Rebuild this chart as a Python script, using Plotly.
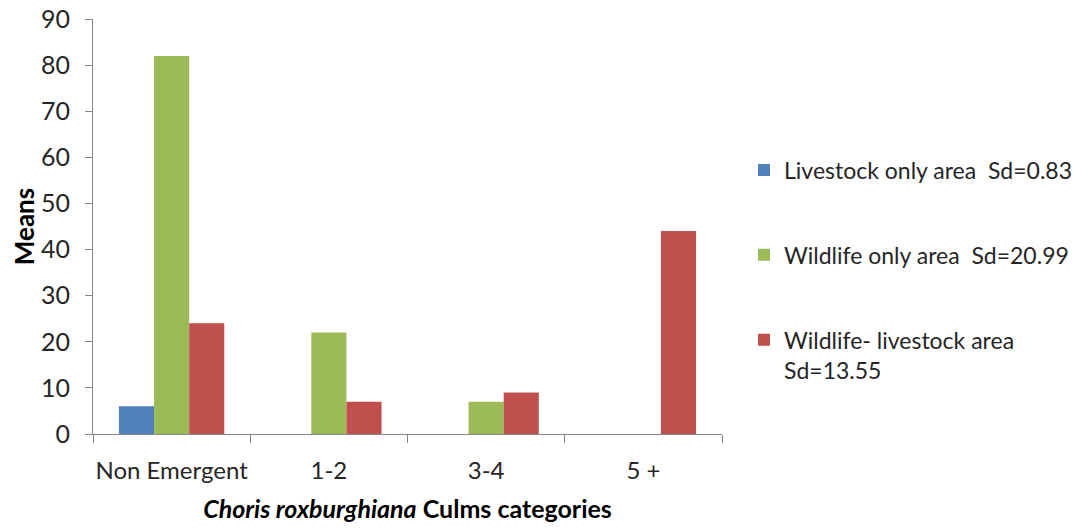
import plotly.graph_objects as go

categories = ["Non Emergent", "1-2", "3-4", "5 +"]
livestock = [6, 0, 0, 0]
wildlife = [82, 22, 7, 0]
mixed = [24, 7, 9, 44]
series_names = [
    "Livestock only area  Sd=0.83",
    "Wildlife only area  Sd=20.99",
    "Wildlife- livestock area<br>Sd=13.55",
]
colors = ["#4F81BD", "#9BBB59", "#C0504D"]
y_ticks = [0, 10, 20, 30, 40, 50, 60, 70, 80, 90]

FONT = "Lato, 'Open Sans', sans-serif"

fig = go.Figure()
for i, (name, vals) in enumerate(zip(series_names, [livestock, wildlife, mixed])):
    fig.add_trace(go.Bar(
        x=categories, y=vals, name=name,
        marker=dict(color=colors[i], line=dict(width=0)),
        legendgroup=f"g{i}",
    ))

fig.update_layout(
    width=1070, height=515,
    paper_bgcolor="white", plot_bgcolor="white",
    barmode="group", bargap=0.33, bargroupgap=0,
    margin=dict(l=85, r=356, t=11, b=89, autoexpand=False),
    font=dict(family=FONT, color="#262626"),
    legend=dict(
        x=1.035, xanchor="left", y=0.688, yanchor="top",
        font=dict(size=23, color="#262626", family=FONT),
        tracegroupgap=52, itemwidth=30, valign="top",
        bgcolor="rgba(0,0,0,0)",
    ),
    showlegend=True,
)
fig.update_xaxes(
    automargin=True,
    showline=True, linecolor="#868686", linewidth=1,
    ticks="outside", ticklen=8, tickcolor="#868686", tickson="boundaries",
    ticklabelstandoff=15, tickangle=0, ticklabeloverflow="allow",
    tickfont=dict(size=24, color="#262626"),
    title=dict(text="<b><i>Choris roxburghiana</i> Culms categories</b>",
               font=dict(size=25, color="#000000"), standoff=18),
    showgrid=False,
)
fig.update_yaxes(
    automargin=False,
    range=[0, 90], tickvals=y_ticks,
    showline=True, linecolor="#868686", linewidth=1,
    ticks="outside", ticklen=7, tickcolor="#868686",
    ticklabelstandoff=10, ticklabeloverflow="allow",
    tickfont=dict(size=25, color="#262626"),
    title=dict(text="<b>Means</b>", font=dict(size=26, color="#000000"), standoff=12),
    showgrid=False, zeroline=False,
)

fig.write_html("out.html")
